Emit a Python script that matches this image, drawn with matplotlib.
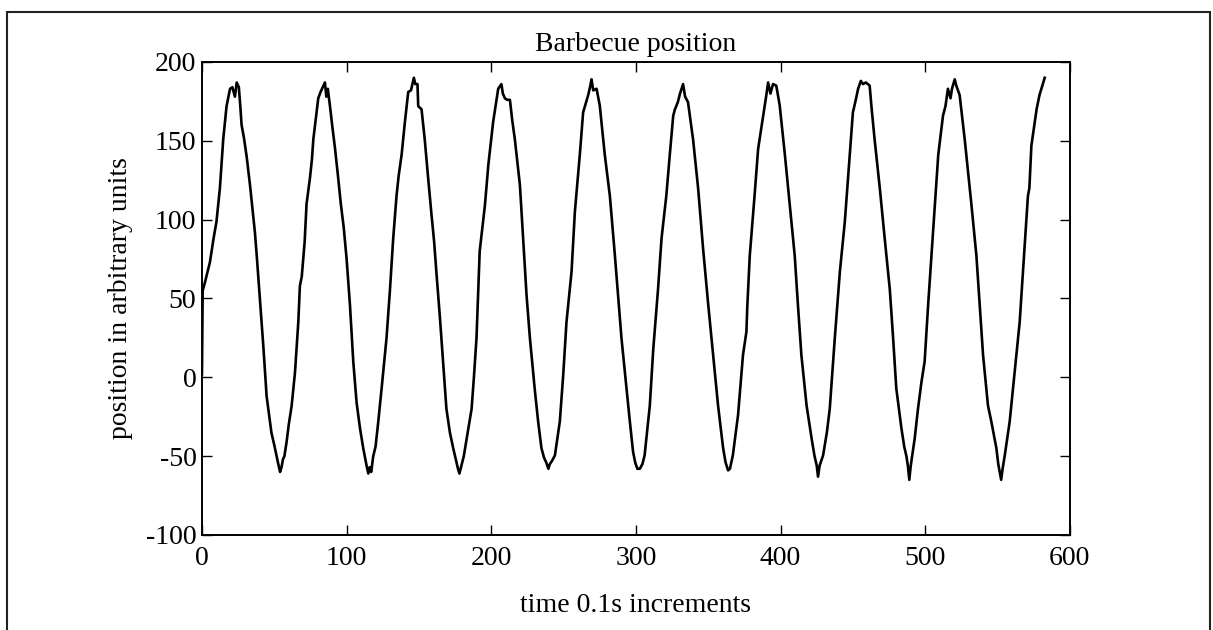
import matplotlib.pyplot as plt
from matplotlib.patches import Rectangle

# values (time in 0.1 s steps, position in arbitrary units)
time = [0, 0.5, 2, 5.5, 8, 10, 12.4, 14.7, 17, 19.4, 21, 22.8, 24, 25.5, 26.5, 27.4, 29, 30.9, 33.2, 35,
        36.6, 37.8, 40, 42.4, 44.7, 48, 50, 51.6, 53, 54, 55, 56, 57, 58.5, 60, 62, 64.3, 66.6, 67.7, 69,
        71, 72.3, 74.6, 76, 77, 80.4, 82, 84, 85, 86, 87, 88.5, 90, 92, 94, 96, 98, 100, 102.3, 104.6,
        106.9, 109.2, 111.5, 113.8, 115, 116, 117, 118.4, 120, 121.9, 124.2, 127.6, 130, 132.2, 134.5, 136, 138, 140.3, 142.6, 144.5,
        145.5, 146.5, 147.5, 149, 149.5, 151.8, 154, 156.4, 158.7, 160.5, 162.2, 164.5, 166.8, 169, 171.4, 173.7, 175.5, 177, 178, 179.6,
        181, 183, 186.4, 188, 189.8, 191, 192, 195.6, 198, 201.3, 204.8, 207, 208, 209.4, 211, 212.9, 214.5, 216.3, 219.8, 222,
        224.4, 226.7, 230, 232.4, 234.7, 236.5, 238, 239.5, 240.5, 242, 244, 247.4, 249.7, 252, 255.5, 257.8, 261.2, 263.5, 267, 268.5,
        269.3, 270.5, 272.8, 275, 278.5, 282, 285.4, 287.8, 290, 293.5, 295.8, 298, 299.5, 301, 302.7, 304.5, 306, 309.6, 312, 315.3,
        317.7, 321, 323.4, 325.8, 327, 329, 330.5, 332.6, 334, 336, 339.5, 343, 346.4, 350, 353.4, 356.8, 360.3, 362, 363.7, 365,
        367, 370.6, 374, 376.4, 377, 378.7, 382, 384.5, 388, 390, 391.4, 393, 394.8, 397, 398, 399.4, 403, 406.4, 409.8, 412,
        414.4, 418, 421.5, 423.5, 425, 425.9, 427, 429.4, 432, 434, 437.5, 441, 444.4, 447.8, 450, 452, 453.6, 455.5, 457, 459,
        461.6, 463, 465, 468.6, 472, 475.5, 477.8, 480, 483.5, 485.5, 487, 488, 489, 490, 492.7, 495, 497.4, 499.6, 502, 504.3,
        506.6, 509, 512.3, 514, 515.7, 517.5, 518.5, 520.4, 521.5, 523.8, 527.3, 532, 535.4, 537.7, 540, 543.4, 545.7, 549.2, 550.5, 551.5,
        552.5, 553.5, 555, 558.4, 561.8, 565.3, 567.6, 571, 572, 573.4, 575.7, 577, 579, 581, 582.6]
position = [2, 55, 60, 73, 88, 98.5, 120, 151, 172, 183, 184, 178, 187, 184, 172, 160, 152, 140, 122, 106,
            92, 78, 50, 20, -12, -35, -43, -50, -56, -60, -57, -52, -50, -41, -30, -18, 3, 35, 58, 64,
            86, 110, 126, 138, 151, 177, 181, 185, 187, 178, 183, 172, 160, 145, 128, 110, 95, 75, 46, 10,
            -16, -32, -45, -56, -61, -57, -60, -50, -44, -28, -7, 25, 56, 88, 115, 128, 141, 162, 181, 182,
            186, 190, 186, 186, 172, 170, 151, 126, 103, 86, 65, 38, 8, -20, -35, -45, -52, -58, -61, -55,
            -50, -39, -20, 0, 25, 55, 80, 109, 135, 162, 183, 186, 180, 177, 176, 176, 163, 151, 122, 88,
            52, 25, -7, -28, -45, -51, -54, -58, -55, -53, -49.5, -28, 1, 35, 67, 105, 141, 168, 179, 185,
            189, 182, 183, 172.5, 141, 115, 78, 50, 25, -7, -28, -47, -54, -58, -58, -55, -49.5, -18, 18, 56,
            88, 115, 141, 166, 170, 174.6, 180, 186, 178, 174.6, 151, 120, 82, 46, 14, -18, -45, -54, -59, -58,
            -49.5, -24, 14, 29, 45, 77, 115, 145, 166, 178, 187, 180, 186, 185, 180, 172.5, 141, 109, 77, 46,
            14, -18, -39, -50, -56, -63, -56, -49.5, -35, -20, 25, 67, 98.5, 141, 168, 176, 183, 188, 186, 187,
            185, 170, 151, 120, 88, 56, 25, -7, -32, -44, -50, -56, -65, -56, -39, -20, -3, 10, 45.7, 77,
            109, 141, 166, 172, 183, 177, 183, 189, 185, 179, 151, 109, 77, 46, 14, -18, -28, -45, -55, -60,
            -65, -58, -49.5, -28, 3, 35, 67, 115, 120, 147, 162, 170, 179, 185, 190]

x_ticks = [0, 100, 200, 300, 400, 500, 600]
y_ticks = [-100, -50, 0, 50, 100, 150, 200]

plt.rcParams['font.family'] = ['Liberation Serif', 'DejaVu Serif']
plt.rcParams['axes.unicode_minus'] = False

fig = plt.figure(figsize=(12.13, 6.3), dpi=100)
ax = fig.add_axes([0.1665, 0.1508, 0.7155, 0.7508])

ax.plot(time, position, color='black', linewidth=1.9)

ax.set_xlim(0, 600)
ax.set_ylim(-100, 200)
ax.set_xticks(x_ticks)
ax.set_yticks(y_ticks)
ax.tick_params(direction='in', top=True, right=True, length=7, width=1, labelsize=20)
ax.tick_params(axis='x', pad=8)
ax.tick_params(axis='y', pad=4)
for s in ax.spines.values():
    s.set_linewidth(1.4)

ax.set_title('Barbecue position', fontsize=20, pad=8)
ax.set_xlabel('time 0.1s increments', fontsize=20, labelpad=16)
ax.set_ylabel('position in arbitrary units', fontsize=20, labelpad=9)

# frame around the whole scanned figure
fig.patches.append(Rectangle((0.006, -0.05), 0.9915, 1.031, transform=fig.transFigure,
                             fill=False, edgecolor='#222222', linewidth=1.5))

plt.savefig('out.png', dpi=100)
